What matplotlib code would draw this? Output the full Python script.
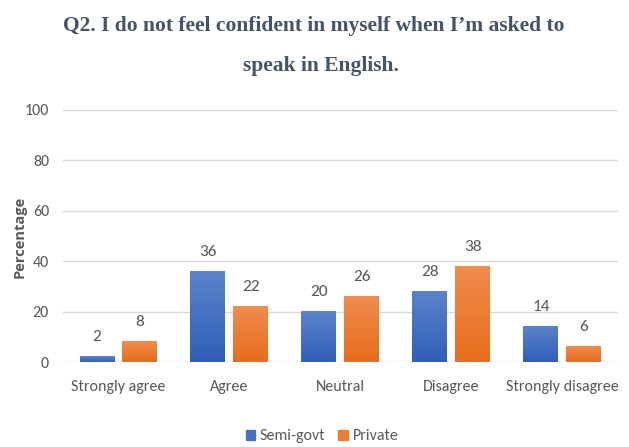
import matplotlib
matplotlib.use("Agg")
import matplotlib.pyplot as plt
import numpy as np
from matplotlib.colors import LinearSegmentedColormap
from matplotlib.patches import Patch

categories = ["Strongly agree", "Agree", "Neutral", "Disagree", "Strongly disagree"]
semi_govt = [2, 36, 20, 28, 14]
private = [8, 22, 26, 38, 6]
series_names = ["Semi-govt", "Private"]
yticks = [0, 20, 40, 60, 80, 100]

blue, orange = "#4472c4", "#ed7d31"
text_grey = "#595959"
label_font = "Carlito"

fig = plt.figure(figsize=(6.29, 4.47), dpi=100)
ax = fig.add_axes([0.1, 0.19, 0.882, 0.564])

x = np.arange(len(categories))
w = 0.315
gap = 0.07

def gradient_bars(xs, heights, top_col, bot_col):
    bars = ax.bar(xs, heights, w, color=bot_col, zorder=2)
    cmap = LinearSegmentedColormap.from_list("g", [bot_col, top_col])
    grad = np.linspace(0, 1, 64).reshape(-1, 1)
    for b in bars:
        x0, y0 = b.get_x(), b.get_y()
        ax.imshow(grad, cmap=cmap, origin="lower", aspect="auto",
                  extent=[x0, x0 + b.get_width(), y0, y0 + b.get_height()],
                  zorder=3)
    return bars

b1 = gradient_bars(x - w / 2 - gap / 2, semi_govt, "#5b83cc", "#2f5fb8")
b2 = gradient_bars(x + w / 2 + gap / 2, private, "#f08c4c", "#e86d1c")

for bars, vals in ((b1, semi_govt), (b2, private)):
    for b, v in zip(bars, vals):
        ax.text(b.get_x() + b.get_width() / 2, v + 5, f"{v}", ha="center",
                va="bottom", fontsize=12.5, color=text_grey, family=label_font)

ax.set_xlim(-0.5, len(categories) - 0.5)
ax.set_ylim(0, 100)
ax.set_yticks(yticks)
ax.set_xticks(x)
ax.set_xticklabels(categories)
ax.tick_params(axis="both", length=0, colors=text_grey, labelsize=11.5)
for lbl in ax.get_xticklabels() + ax.get_yticklabels():
    lbl.set_family(label_font)
ax.tick_params(axis="x", pad=13)
ax.tick_params(axis="y", pad=10)
ax.grid(axis="y", color="#d9d9d9", linewidth=1, zorder=0)
ax.set_axisbelow(True)
for s in ax.spines.values():
    s.set_visible(False)

fig.text(0.031, 0.47, "Percentage", rotation=90, ha="center", va="center",
         fontsize=10.5, fontweight="bold", color=text_grey, family="Open Sans")

fig.text(0.499, 0.942, "Q2. I do not feel confident in myself when I\u2019m asked to",
         ha="center", va="center", fontsize=15.5, fontweight="bold",
         color="#44546a", family="Liberation Serif")
fig.text(0.51, 0.852, "speak in English.", ha="center", va="center",
         fontsize=15.5, fontweight="bold", color="#44546a", family="Liberation Serif")

handles = [Patch(color=blue, label=series_names[0]),
           Patch(color=orange, label=series_names[1])]
fig.legend(handles=handles, loc="center", bbox_to_anchor=(0.512, 0.024),
           ncol=2, frameon=False, handlelength=0.6,
           handleheight=0.6, handletextpad=0.3, columnspacing=0.8,
           labelcolor=text_grey, prop={"family": label_font, "size": 11.5})

fig.savefig("out.png", dpi=100)
